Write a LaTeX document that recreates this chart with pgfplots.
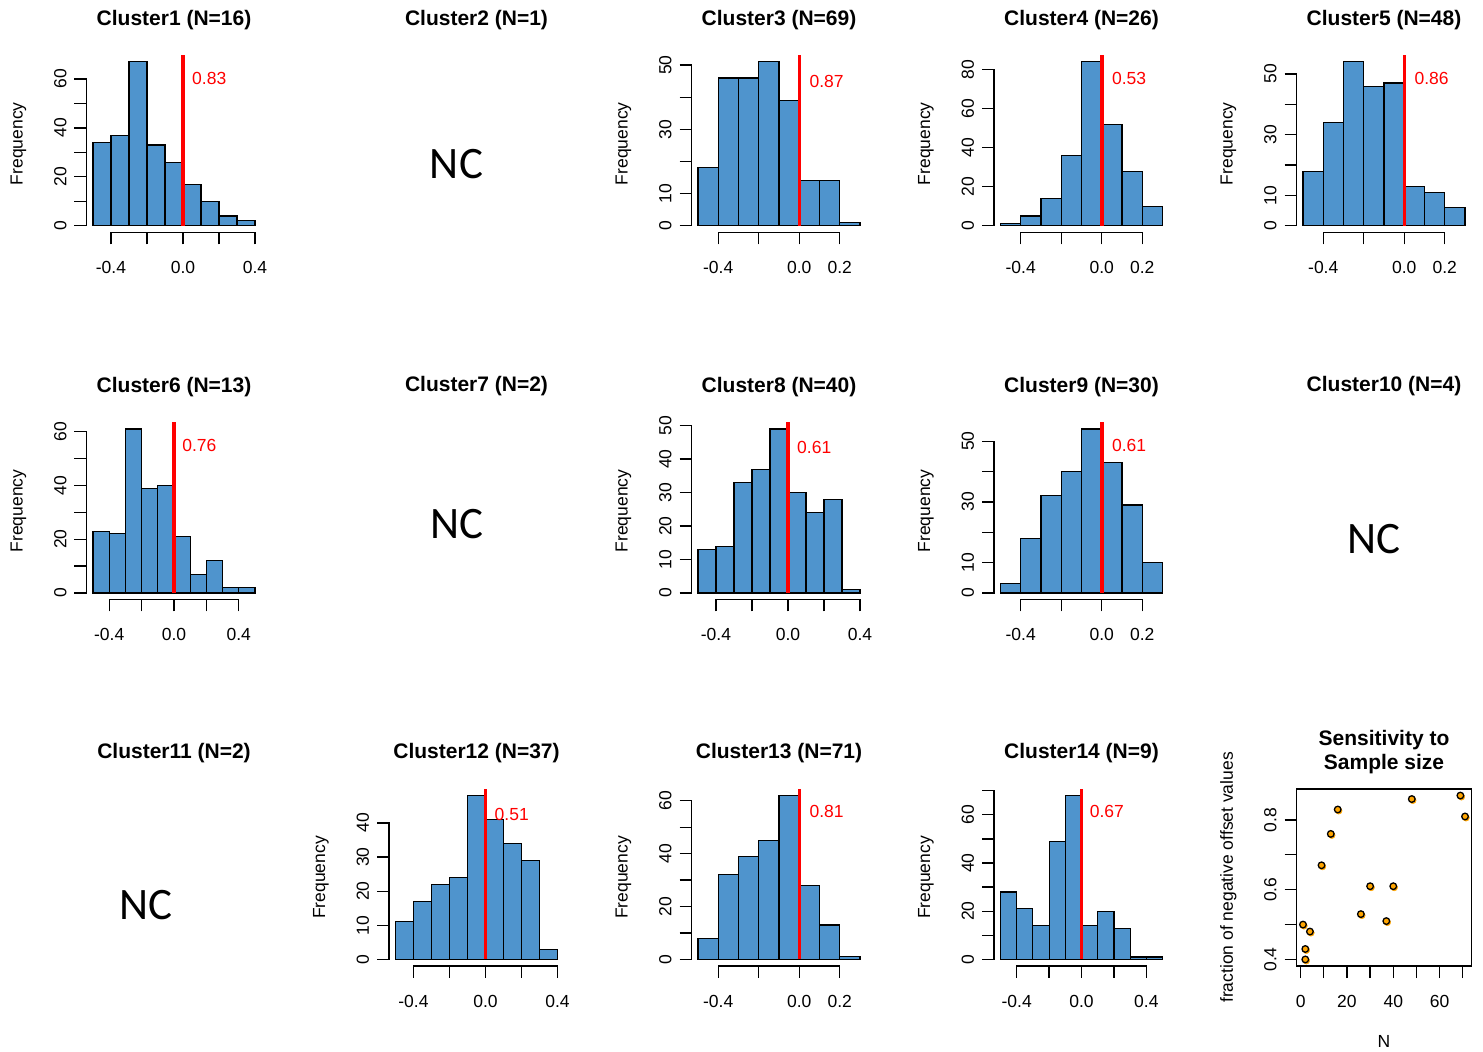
\documentclass[border=0pt]{standalone}
\usepackage{pgfplots}
\pgfplotsset{compat=1.18}
\usepackage{fontspec}
\setmainfont{Liberation Sans}
\newfontfamily\ncfont{Carlito}
\definecolor{barblue}{RGB}{79,148,205}
\definecolor{rorange}{RGB}{255,165,0}
\pgfplotsset{
  rbase/.style={
    scale only axis, width=175pt, height=177pt, anchor=south west,
    clip=false,
    tick align=outside, major tick length=12pt,
    tick style={black, line width=1.3pt},
    tick label style={font=\fontsize{17.5}{20}\selectfont, text=black},
    xtick pos=bottom, ytick pos=left,
    yticklabel style={rotate=90, anchor=south},
    xticklabel shift=13.5pt, yticklabel shift=4.5pt,
    every axis title/.style={at={(axis description cs:0.5,1)}, anchor=center, yshift=35.5pt, font=\bfseries\fontsize{21}{24}\selectfont, align=center},
    every axis y label/.style={at={(axis description cs:-0.389,0.5)}, rotate=90, anchor=center, font=\fontsize{17.5}{20}\selectfont},
    every axis x label/.style={at={(axis description cs:0.5,0)}, anchor=center, yshift=-75pt, font=\fontsize{17.5}{20}\selectfont},
  },
  rhist/.style={rbase, axis line style={draw=none}, ylabel={Frequency}},
  bars/.style={ybar interval, fill=barblue, draw=black, line width=1.2pt},
  zline/.style={red, line width=3.5pt},
}
\tikzset{rlab/.style={red, anchor=west, inner sep=0pt, font=\fontsize{17.5}{20}\selectfont},
  axl/.style={line width=1.3pt, line cap=rect}}
\begin{document}
\begin{tikzpicture}
\useasboundingbox (0,0) rectangle (1483pt,1052pt);
% ---------- Row 0 ----------
\begin{axis}[rhist, at={(86.5pt,819.7pt)}, title={Cluster1 (N=16)},
  xmin=-0.536, xmax=0.436, ymin=-2.68, ymax=69.68,
  xtick={-0.4,-0.2,0,0.2,0.4}, xticklabels={-0.4,,0.0,,0.4},
  ytick={0,10,...,60}, yticklabels={0,,20,,40,,60}]
\addplot[bars] coordinates {(-0.5,34) (-0.4,37) (-0.3,67) (-0.2,33) (-0.1,26) (0,17) (0.1,10) (0.2,4) (0.3,2) (0.4,2)};
\addplot[zline] coordinates {(0,0) (0,69.68)};
\node[rlab] at (axis cs:0.05,60.3) {0.83};
\draw[axl] (axis cs:-0.4,-2.68) -- (axis cs:0.4,-2.68);
\draw[axl] (axis cs:-0.536,0) -- (axis cs:-0.536,60);
\end{axis}
\node[font=\bfseries\fontsize{21}{24}\selectfont] at (476.5pt,1032.2pt) {Cluster2 (N=1)};
\node[font=\ncfont\fontsize{45}{50}\selectfont] at (456.5pt,888.2pt) {NC};
\begin{axis}[rhist, at={(691.5pt,819.7pt)}, title={Cluster3 (N=69)},
  xmin=-0.532, xmax=0.332, ymin=-2.04, ymax=53.04,
  xtick={-0.4,-0.2,0,0.2}, xticklabels={-0.4,,0.0,0.2},
  ytick={0,10,...,50}, yticklabels={0,10,,30,,50}]
\addplot[bars] coordinates {(-0.5,18) (-0.4,46) (-0.3,46) (-0.2,51) (-0.1,39) (0,14) (0.1,14) (0.2,1) (0.3,1)};
\addplot[zline] coordinates {(0,0) (0,53.04)};
\node[rlab] at (axis cs:0.05,45) {0.87};
\draw[axl] (axis cs:-0.4,-2.04) -- (axis cs:0.2,-2.04);
\draw[axl] (axis cs:-0.532,0) -- (axis cs:-0.532,50);
\end{axis}
\begin{axis}[rhist, at={(994pt,819.7pt)}, title={Cluster4 (N=26)},
  xmin=-0.532, xmax=0.332, ymin=-3.36, ymax=87.36,
  xtick={-0.4,-0.2,0,0.2}, xticklabels={-0.4,,0.0,0.2},
  ytick={0,20,...,80}, yticklabels={0,20,40,60,80}]
\addplot[bars] coordinates {(-0.5,1) (-0.4,5) (-0.3,14) (-0.2,36) (-0.1,84) (0,52) (0.1,28) (0.2,10) (0.3,10)};
\addplot[zline] coordinates {(0,0) (0,87.36)};
\node[rlab] at (axis cs:0.05,75.6) {0.53};
\draw[axl] (axis cs:-0.4,-3.36) -- (axis cs:0.2,-3.36);
\draw[axl] (axis cs:-0.532,0) -- (axis cs:-0.532,80);
\end{axis}
\begin{axis}[rhist, at={(1296.5pt,819.7pt)}, title={Cluster5 (N=48)},
  xmin=-0.532, xmax=0.332, ymin=-2.16, ymax=56.16,
  xtick={-0.4,-0.2,0,0.2}, xticklabels={-0.4,,0.0,0.2},
  ytick={0,10,...,50}, yticklabels={0,10,,30,,50}]
\addplot[bars] coordinates {(-0.5,18) (-0.4,34) (-0.3,54) (-0.2,46) (-0.1,47) (0,13) (0.1,11) (0.2,6) (0.3,6)};
\addplot[zline] coordinates {(0,0) (0,56.16)};
\node[rlab] at (axis cs:0.05,48.6) {0.86};
\draw[axl] (axis cs:-0.4,-2.16) -- (axis cs:0.2,-2.16);
\draw[axl] (axis cs:-0.532,0) -- (axis cs:-0.532,50);
\end{axis}
% ---------- Row 1 ----------
\begin{axis}[rhist, at={(86.5pt,452.5pt)}, title={Cluster6 (N=13)},
  xmin=-0.54, xmax=0.54, ymin=-2.44, ymax=63.44,
  xtick={-0.4,-0.2,0,0.2,0.4}, xticklabels={-0.4,,0.0,,0.4},
  ytick={0,10,...,60}, yticklabels={0,,20,,40,,60}]
\addplot[bars] coordinates {(-0.5,23) (-0.4,22) (-0.3,61) (-0.2,39) (-0.1,40) (0,21) (0.1,7) (0.2,12) (0.3,2) (0.4,2) (0.5,2)};
\addplot[zline] coordinates {(0,0) (0,63.44)};
\node[rlab] at (axis cs:0.05,54.9) {0.76};
\draw[axl] (axis cs:-0.4,-2.44) -- (axis cs:0.4,-2.44);
\draw[axl] (axis cs:-0.54,0) -- (axis cs:-0.54,60);
\end{axis}
\node[font=\bfseries\fontsize{21}{24}\selectfont] at (476.5pt,666pt) {Cluster7 (N=2)};
\node[font=\ncfont\fontsize{45}{50}\selectfont] at (457pt,527.5pt) {NC};
\begin{axis}[rhist, at={(691.5pt,452.5pt)}, title={Cluster8 (N=40)},
  xmin=-0.536, xmax=0.436, ymin=-1.96, ymax=50.96,
  xtick={-0.4,-0.2,0,0.2,0.4}, xticklabels={-0.4,,0.0,,0.4},
  ytick={0,10,...,50}, yticklabels={0,10,20,30,40,50}]
\addplot[bars] coordinates {(-0.5,13) (-0.4,14) (-0.3,33) (-0.2,37) (-0.1,49) (0,30) (0.1,24) (0.2,28) (0.3,1) (0.4,1)};
\addplot[zline] coordinates {(0,0) (0,50.96)};
\node[rlab] at (axis cs:0.05,43.5) {0.61};
\draw[axl] (axis cs:-0.4,-1.96) -- (axis cs:0.4,-1.96);
\draw[axl] (axis cs:-0.536,0) -- (axis cs:-0.536,50);
\end{axis}
\begin{axis}[rhist, at={(994pt,452.5pt)}, title={Cluster9 (N=30)},
  xmin=-0.532, xmax=0.332, ymin=-2.16, ymax=56.16,
  xtick={-0.4,-0.2,0,0.2}, xticklabels={-0.4,,0.0,0.2},
  ytick={0,10,...,50}, yticklabels={0,10,,30,,50}]
\addplot[bars] coordinates {(-0.5,3) (-0.4,18) (-0.3,32) (-0.2,40) (-0.1,54) (0,43) (0.1,29) (0.2,10) (0.3,10)};
\addplot[zline] coordinates {(0,0) (0,56.16)};
\node[rlab] at (axis cs:0.05,48.6) {0.61};
\draw[axl] (axis cs:-0.4,-2.16) -- (axis cs:0.2,-2.16);
\draw[axl] (axis cs:-0.532,0) -- (axis cs:-0.532,50);
\end{axis}
\node[font=\bfseries\fontsize{21}{24}\selectfont] at (1384pt,666pt) {Cluster10 (N=4)};
\node[font=\ncfont\fontsize{45}{50}\selectfont] at (1374pt,513pt) {NC};
% ---------- Row 2 ----------
\node[font=\bfseries\fontsize{21}{24}\selectfont] at (174pt,298.5pt) {Cluster11 (N=2)};
\node[font=\ncfont\fontsize{45}{50}\selectfont] at (146pt,146.5pt) {NC};
\begin{axis}[rhist, at={(389pt,86pt)}, title={Cluster12 (N=37)},
  xmin=-0.536, xmax=0.436, ymin=-1.92, ymax=49.92,
  xtick={-0.4,-0.2,0,0.2,0.4}, xticklabels={-0.4,,0.0,,0.4},
  ytick={0,10,...,40}, yticklabels={0,10,20,30,40}]
\addplot[bars] coordinates {(-0.5,11) (-0.4,17) (-0.3,22) (-0.2,24) (-0.1,48) (0,41) (0.1,34) (0.2,29) (0.3,3) (0.4,3)};
\addplot[zline] coordinates {(0,0) (0,49.92)};
\node[rlab] at (axis cs:0.05,42.5) {0.51};
\draw[axl] (axis cs:-0.4,-1.92) -- (axis cs:0.4,-1.92);
\draw[axl] (axis cs:-0.536,0) -- (axis cs:-0.536,40);
\end{axis}
\begin{axis}[rhist, at={(691.5pt,86pt)}, title={Cluster13 (N=71)},
  xmin=-0.532, xmax=0.332, ymin=-2.48, ymax=64.48,
  xtick={-0.4,-0.2,0,0.2}, xticklabels={-0.4,,0.0,0.2},
  ytick={0,10,...,60}, yticklabels={0,,20,,40,,60}]
\addplot[bars] coordinates {(-0.5,8) (-0.4,32) (-0.3,39) (-0.2,45) (-0.1,62) (0,28) (0.1,13) (0.2,1) (0.3,1)};
\addplot[zline] coordinates {(0,0) (0,64.48)};
\node[rlab] at (axis cs:0.05,55.8) {0.81};
\draw[axl] (axis cs:-0.4,-2.48) -- (axis cs:0.2,-2.48);
\draw[axl] (axis cs:-0.532,0) -- (axis cs:-0.532,60);
\end{axis}
\begin{axis}[rhist, at={(994pt,86pt)}, title={Cluster14 (N=9)},
  xmin=-0.54, xmax=0.54, ymin=-2.72, ymax=70.72,
  xtick={-0.4,-0.2,0,0.2,0.4}, xticklabels={-0.4,,0.0,,0.4},
  ytick={0,10,...,70}, yticklabels={0,,20,,40,,60,}]
\addplot[bars] coordinates {(-0.5,28) (-0.4,21) (-0.3,14) (-0.2,49) (-0.1,68) (0,14) (0.1,20) (0.2,13) (0.3,1) (0.4,1) (0.5,1)};
\addplot[zline] coordinates {(0,0) (0,70.72)};
\node[rlab] at (axis cs:0.05,61.2) {0.67};
\draw[axl] (axis cs:-0.4,-2.72) -- (axis cs:0.4,-2.72);
\draw[axl] (axis cs:-0.54,0) -- (axis cs:-0.54,70);
\end{axis}
\begin{axis}[rbase, at={(1296.5pt,86pt)}, title={Sensitivity to\\Sample size},
  title style={yshift=1.5pt},
  axis line style={line width=1.3pt},
  xmin=-1.8, xmax=73.8, ymin=0.3812, ymax=0.8888,
  xtick={0,10,...,70}, xticklabels={0,,20,,40,,60,},
  ytick={0.4,0.5,0.6,0.7,0.8}, yticklabels={0.4,,0.6,,0.8},
  xlabel={N}, ylabel={fraction of negative offset values}]
\addplot[only marks, mark=*, mark size=3.4pt, mark options={draw=rorange, fill=rorange, xshift=1pt, yshift=-1.3pt}] coordinates {
(1,0.50) (2,0.43) (2,0.40) (4,0.48) (9,0.67) (13,0.76) (16,0.83) (26,0.53) (30,0.61) (37,0.51) (40,0.61) (48,0.86) (69,0.87) (71,0.81)};
\addplot[only marks, mark=*, mark size=3.3pt, mark options={draw=black, fill=rorange, line width=1.3pt}] coordinates {
(1,0.50) (2,0.43) (2,0.40) (4,0.48) (9,0.67) (13,0.76) (16,0.83) (26,0.53) (30,0.61) (37,0.51) (40,0.61) (48,0.86) (69,0.87) (71,0.81)};
\end{axis}
\end{tikzpicture}
\end{document}
